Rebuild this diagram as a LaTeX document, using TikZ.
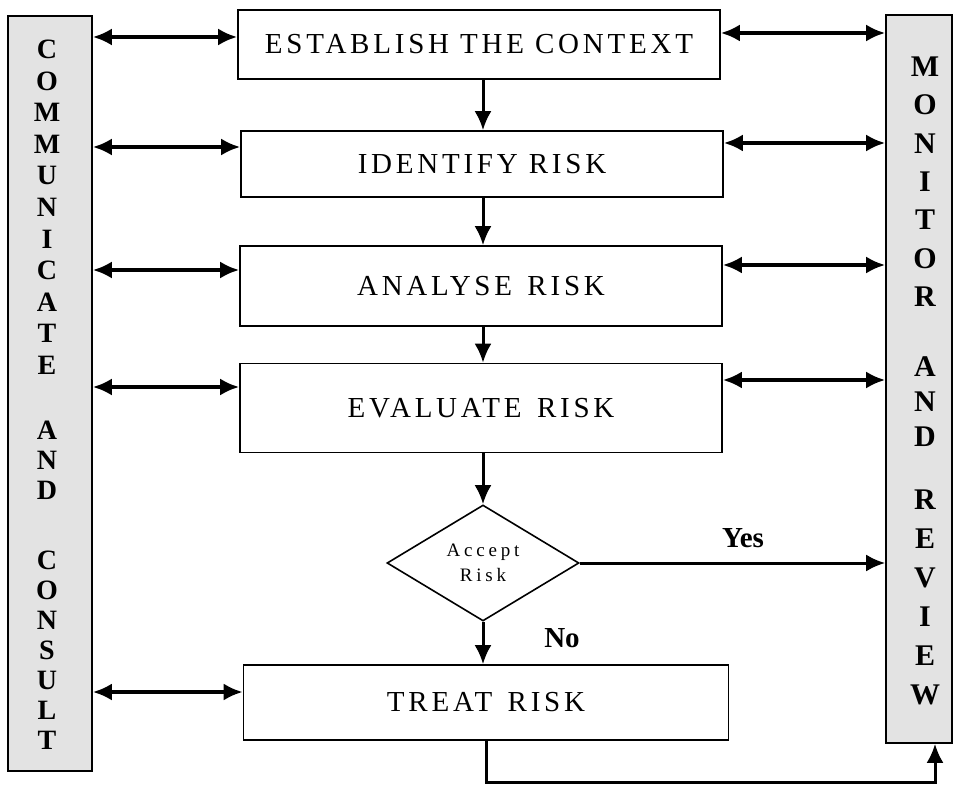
\documentclass[tikz,border=0pt]{standalone}
\usepackage{fontspec}
\setmainfont{Liberation Serif}
\newfontfamily\boxfont[LetterSpace=13]{Liberation Serif}
\newfontfamily\askfont[LetterSpace=20]{Liberation Serif}
\usetikzlibrary{shapes.geometric,positioning,arrows.meta,calc}

\tikzset{
  stepbox/.style={draw, line width=1.6pt, minimum width=482, inner sep=0,
    font=\boxfont\fontsize{29}{32}\selectfont},
  sidebar/.style={draw, line width=1.6pt, fill=black!11},
  barletter/.style={inner sep=0, font=\bfseries\fontsize{28}{28}\selectfont},
  dbl/.style={{Latex[length=19pt,width=17pt]}-{Latex[length=19pt,width=17pt]}, line width=3.4pt},
  arr/.style={-{Latex[length=19pt,width=17pt]}, line width=3pt},
  answer/.style={inner sep=0, anchor=base, font=\bfseries\fontsize{29}{29}\selectfont}
}

\begin{document}
\begin{tikzpicture}[x=1pt,y=-1pt]
\useasboundingbox (0,0) rectangle (956,786);

% side bars
\node[sidebar, minimum width=84, minimum height=755] (comm) at (50,393.5) {};
\node[sidebar, minimum width=66, minimum height=728] (mon) at (919,379) {};

\foreach \l/\y [count=\i] in {C/49,O/81,M/112,M/144,U/175,N/207,I/239,C/270,A/302,T/333,E/365,
    A/430,N/460,D/490,C/560,O/590,N/620,S/650,U/680,L/710,T/740}
  \node[barletter] (cl\i) at (47,\y) {\l};

\foreach \l/\y [count=\i] in {M/67,O/105,N/144,I/182,T/220,O/259,R/297,
    A/367,N/402,D/437,R/500,E/539,V/578,I/617,E/656,W/695}
  \node[barletter, font=\bfseries\fontsize{30}{30}\selectfont] (ml\i) at (925,\y) {\l};

% process boxes
\node[stepbox, minimum height=69] (ctx) at (479,44.5) {ESTABLISH THE CONTEXT};
\node[stepbox, minimum height=66] (idf) at (482,164) {IDENTIFY RISK};
\node[stepbox, minimum height=80] (ana) at (481,286) {ANALYSE\hspace{0.15em} RISK};
\node[stepbox, minimum height=89] (eva) at (481,408) {EVALUATE\hspace{0.15em} RISK};
\node[draw, diamond, line width=1.6pt, minimum width=192, minimum height=116, inner sep=0,
  align=center, font=\askfont\fontsize{19}{25}\selectfont] (dia) at (483,563) {Accept\\Risk};
\node[stepbox, minimum height=75, minimum width=485] (trt) at (486,702.5) {TREAT\hspace{0.15em} RISK};

% flow down
\draw[arr] (ctx.south -| dia) -- (idf.north -| dia);
\draw[arr] (idf.south -| dia) -- (ana.north -| dia);
\draw[arr] (ana.south -| dia) -- (eva.north -| dia);
\draw[arr] (eva.south -| dia) -- (dia.north);
\draw[arr] (dia.south) -- (trt.north -| dia);
\draw[arr] (dia.east) -- (dia.east -| mon.west);

\node[answer] (yes) at (743,547) {Yes};
\node[answer] (no) at (562,647) {No};

% links to the side bars
\foreach \n/\a in {ctx/7.5,idf/17,ana/16,eva/21,trt/10.5}
  \draw[dbl] ([yshift=\a]\n.west -| comm.east) -- ([yshift=\a]\n.west);
\foreach \n/\a in {ctx/11.5,idf/21,ana/21,eva/28}
  \draw[dbl] ([yshift=\a]\n.east) -- ([yshift=\a]\n.east -| mon.west);

\coordinate (turn) at (935,782);
\draw[arr] (trt.south) |- (turn) -- (turn |- mon.south);

\end{tikzpicture}
\end{document}
